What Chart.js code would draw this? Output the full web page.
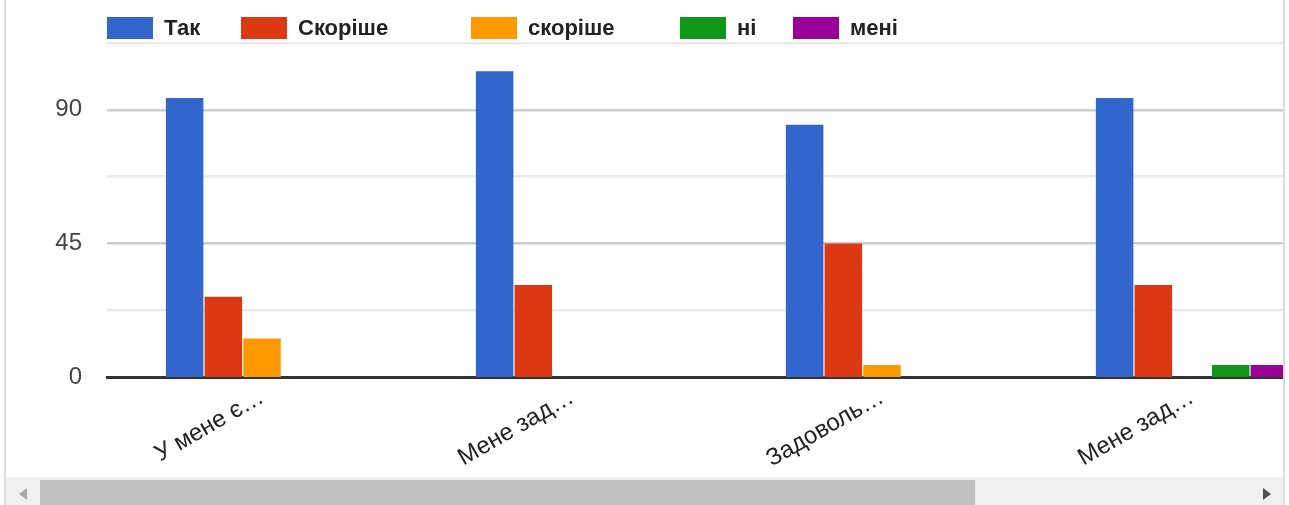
<!DOCTYPE html>
<html><head><meta charset="utf-8">
<script src="https://cdn.jsdelivr.net/npm/chart.js@4"></script>
<style>
html,body{margin:0;padding:0;background:#fff;}
body{width:1289px;height:505px;overflow:hidden;position:relative;font-family:Arial,"Liberation Sans",sans-serif;}
#frame{position:absolute;left:4px;top:0;width:1281px;height:505px;border-left:2px solid #dcdcdc;border-right:2px solid #dcdcdc;box-sizing:border-box;overflow:hidden;}
#wrap{position:absolute;left:0;top:0;width:1345px;height:477px;}
#legend{position:absolute;left:0;top:17px;height:22px;display:flex;}
.li{display:flex;align-items:center;height:22px;flex:none;}
.sw{width:46px;height:22px;flex:none;}
.lt{margin-left:11px;font:bold 22px Arial,"Liberation Sans",sans-serif;color:#222;white-space:nowrap;background:#fff;line-height:22px;}
#track{position:absolute;left:0;top:477px;width:1277px;height:28px;background:#f0f0f0;}
#thumb{position:absolute;left:34px;top:3px;width:935px;height:25px;background:#c0c0c0;}
#la{position:absolute;left:13px;top:11px;width:0;height:0;border-top:6px solid transparent;border-bottom:6px solid transparent;border-right:8px solid #a8a8a8;}
#ra{position:absolute;left:1257px;top:11px;width:0;height:0;border-top:6px solid transparent;border-bottom:6px solid transparent;border-left:8px solid #505050;}
</style></head>
<body>
<div id="frame">
  <div id="wrap"><canvas id="c" width="1345" height="477"></canvas></div>
  <div id="legend"></div>
  <div id="track"><div id="thumb"></div><div id="la"></div><div id="ra"></div></div>
</div>
<script>
const categories = ["У мене є…", "Мене зад…", "Задоволь…", "Мене зад…"];
const seriesNames = ["Так", "Скоріше", "скоріше", "ні", "мені"];
const valuesTak      = [94, 103, 85, 94];
const valuesSkorTak  = [27, 31, 45, 31];
const valuesSkorNi   = [13, 0, 4, 0];
const valuesNi       = [0, 0, 0, 4];
const valuesMeni     = [0, 0, 0, 4];
const yTicksShown = [0, 45, 90];

const colors = ["#3366cc", "#dc3912", "#ff9900", "#109618", "#990099"];
const legendSlots = [134, 230, 209, 113, 120];
const seriesValues = [valuesTak, valuesSkorTak, valuesSkorNi, valuesNi, valuesMeni];
const FONT = 'Arial, "Liberation Sans", sans-serif';

const chart = new Chart(document.getElementById('c'), {
  type: 'bar',
  data: {
    labels: categories,
    datasets: seriesNames.map((n, i) => ({
      label: n, data: seriesValues[i], backgroundColor: colors[i],
      borderWidth: 0, barPercentage: 0.97, categoryPercentage: 0.624
    }))
  },
  options: {
    responsive: false, animation: false,
    layout: { padding: { left: 0, right: 4, top: 43, bottom: 0 } },
    plugins: { legend: { display: false }, tooltip: { enabled: false } },
    scales: {
      x: {
        grid: { display: false, drawTicks: false },
        border: { display: true, color: '#333', width: 3 },
        ticks: { color: '#222', font: { family: FONT, size: 24 },
                 maxRotation: 30, minRotation: 30, autoSkip: false, padding: 6 },
        afterFit: s => { s.height = 100; }
      },
      y: {
        min: 0, max: 112.5,
        afterBuildTicks: s => { s.ticks = [0, 22.5, 45, 67.5, 90, 112.5].map(v => ({ value: v })); },
        grid: {
          drawTicks: false,
          color: c => c.tick.value === 0 ? '#333' : (yTicksShown.includes(c.tick.value) ? '#cccccc' : '#ebebeb'),
          lineWidth: c => c.tick.value === 0 ? 0 : 2.5
        },
        border: { display: false },
        ticks: { color: '#444', font: { family: FONT, size: 24 }, padding: 25,
                 callback: v => yTicksShown.includes(v) ? String(v) : '' },
        afterFit: s => { s.width = 101; }
      }
    }
  }
});

const lg = document.getElementById('legend');
lg.style.left = chart.chartArea.left + 'px';
chart.data.datasets.forEach((d, i) => {
  const it = document.createElement('div'); it.className = 'li'; it.style.width = legendSlots[i] + 'px';
  const sw = document.createElement('div'); sw.className = 'sw'; sw.style.background = d.backgroundColor;
  const t = document.createElement('span'); t.className = 'lt'; t.textContent = d.label;
  it.appendChild(sw); it.appendChild(t); lg.appendChild(it);
});
</script>
</body></html>
